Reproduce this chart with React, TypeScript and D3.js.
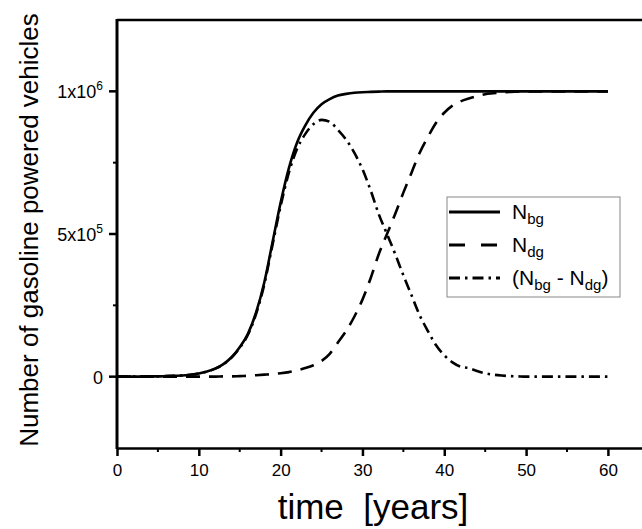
import { useEffect, useRef } from "react";
import * as d3 from "d3";

const WIDTH = 642;
const HEIGHT = 529;
const MARGIN = { top: 20, left: 117, bottom: 81 };
const FONT = "Liberation Sans, Arial, sans-serif";

// time in years
const years = d3.range(0, 61);

// values in units of 10^6 vehicles
const nBg = [
  0, 0, 0, 0.0005, 0.001, 0.001, 0.002, 0.003, 0.004, 0.007,
  0.011, 0.018, 0.028, 0.044, 0.068, 0.103, 0.15, 0.225, 0.33, 0.47,
  0.61, 0.73, 0.82, 0.88, 0.925, 0.955, 0.973, 0.985, 0.991, 0.995,
  0.997, 0.998, 0.999, 1, 1, 1, 1, 1, 1, 1,
  1, 1, 1, 1, 1, 1, 1, 1, 1, 1,
  1, 1, 1, 1, 1, 1, 1, 1, 1, 1, 1,
];

const nDg = [
  0, 0, 0, 0, 0, 0, 0, 0, 0, 0,
  0, 0, 0, 0.001, 0.001, 0.002, 0.003, 0.005, 0.007, 0.009,
  0.012, 0.016, 0.022, 0.03, 0.04, 0.055, 0.08, 0.12, 0.16, 0.21,
  0.27, 0.345, 0.43, 0.5, 0.57, 0.645, 0.715, 0.785, 0.84, 0.89,
  0.925, 0.95, 0.965, 0.975, 0.983, 0.99, 0.993, 0.996, 0.998, 0.999,
  1, 1, 1, 1, 1, 1, 1, 1, 1, 1, 1,
];

const nDiff = [
  0, 0, 0, 0.0005, 0.001, 0.001, 0.002, 0.003, 0.004, 0.007,
  0.011, 0.018, 0.028, 0.043, 0.067, 0.101, 0.147, 0.22, 0.323, 0.461,
  0.598, 0.714, 0.798, 0.85, 0.885, 0.9, 0.893, 0.865, 0.831, 0.785,
  0.727, 0.653, 0.569, 0.5, 0.43, 0.355, 0.285, 0.215, 0.16, 0.11,
  0.075, 0.05, 0.035, 0.03, 0.02, 0.012, 0.007, 0.004, 0.002, 0.001,
  0, 0, 0, 0, 0, 0, 0, 0, 0, 0, 0,
];

const xMajor = [0, 10, 20, 30, 40, 50, 60];
const xMinor = [5, 15, 25, 35, 45, 55, 65];
const yMajor = [
  { v: 0, base: "0", exp: "" },
  { v: 0.5, base: "5x10", exp: "5" },
  { v: 1, base: "1x10", exp: "6" },
];
const yMinor = [0.25, 0.75];

const SERIES = [
  { name: "bg", values: nBg, dash: null },
  { name: "dg", values: nDg, dash: "14 9" },
  { name: "diff", values: nDiff, dash: "11 5 2.5 5" },
];

export default function App() {
  const axesRef = useRef<SVGGElement>(null);

  const xScale = d3.scaleLinear().domain([0, 66]).range([MARGIN.left, MARGIN.left + 540]);
  const yScale = d3
    .scaleLinear()
    .domain([-0.25, 1.25])
    .range([HEIGHT - MARGIN.bottom, MARGIN.top]);

  const line = d3
    .line<number>()
    .x((_, i) => xScale(years[i]))
    .y((d) => yScale(d))
    .curve(d3.curveMonotoneX);

  useEffect(() => {
    const g = d3.select(axesRef.current);
    g.selectAll("*").remove();
    const y0 = yScale(-0.25);
    const x0 = xScale(0);

    const xAxis = g
      .append("g")
      .attr("transform", `translate(0,${y0})`)
      .call(d3.axisBottom(xScale).tickValues(xMajor).tickSize(8).tickSizeOuter(0).tickPadding(8));
    xAxis.select(".domain").attr("stroke-width", 2.5);
    xAxis.selectAll(".tick line").attr("stroke-width", 2.5);
    xAxis
      .selectAll(".tick text")
      .attr("font-family", FONT)
      .attr("font-size", 17)
      .attr("fill", "#000");
    xMinor.forEach((t) => {
      g.append("line")
        .attr("x1", xScale(t))
        .attr("x2", xScale(t))
        .attr("y1", y0)
        .attr("y2", y0 + 4)
        .attr("stroke", "#000")
        .attr("stroke-width", 2);
    });

    // top frame
    g.append("line")
      .attr("x1", x0)
      .attr("x2", xScale(66))
      .attr("y1", yScale(1.25))
      .attr("y2", yScale(1.25))
      .attr("stroke", "#000")
      .attr("stroke-width", 2.5);

    // left axis
    g.append("line")
      .attr("x1", x0)
      .attr("x2", x0)
      .attr("y1", yScale(1.25) - 1)
      .attr("y2", y0 + 1)
      .attr("stroke", "#000")
      .attr("stroke-width", 3);

    yMajor.forEach((t) => {
      const y = yScale(t.v);
      g.append("line")
        .attr("x1", x0 - 8)
        .attr("x2", x0)
        .attr("y1", y)
        .attr("y2", y)
        .attr("stroke", "#000")
        .attr("stroke-width", 2.5);
      const txt = g
        .append("text")
        .attr("x", x0 - 14)
        .attr("y", y + 7)
        .attr("text-anchor", "end")
        .attr("font-family", FONT)
        .attr("font-size", 18);
      txt.append("tspan").text(t.base);
      if (t.exp) {
        txt.append("tspan").attr("dy", -8).attr("font-size", 12).text(t.exp);
      }
    });
    yMinor.forEach((v) => {
      g.append("line")
        .attr("x1", x0 - 4)
        .attr("x2", x0)
        .attr("y1", yScale(v))
        .attr("y2", yScale(v))
        .attr("stroke", "#000")
        .attr("stroke-width", 2);
    });
  }, []);

  const legendX = 447;
  const legendY = 197;
  const rows = [
    { dash: null, label: [["N", ""], ["bg", "sub"]] },
    { dash: "16 16", label: [["N", ""], ["dg", "sub"]] },
    { dash: "11 5 2.5 5", label: [["(N", ""], ["bg", "sub"], [" - N", ""], ["dg", "sub"], [")", ""]] },
  ];

  return (
    <svg
      width={WIDTH}
      height={HEIGHT}
      style={{ position: "absolute", left: 0, top: 0, background: "#fff" }}
    >
      <rect width={WIDTH} height={HEIGHT} fill="#fff" />
      {SERIES.map((s) => (
        <path
          key={s.name}
          d={line(s.values) ?? ""}
          fill="none"
          stroke="#000"
          strokeWidth={2.6}
          strokeDasharray={s.dash ?? undefined}
        />
      ))}
      <g ref={axesRef} />

      <g>
        <rect
          x={legendX}
          y={legendY}
          width={173}
          height={100}
          fill="#fff"
          stroke="#888"
          strokeWidth={1}
        />
        {rows.map((r, i) => {
          const cy = legendY + 15 + i * 33;
          return (
            <g key={i}>
              <line
                x1={legendX + 2}
                x2={legendX + 53}
                y1={cy}
                y2={cy}
                stroke="#000"
                strokeWidth={3}
                strokeDasharray={r.dash ?? undefined}
              />
              <text x={legendX + 65} y={cy + 7} fontFamily={FONT} fontSize={21}>
                {r.label.map(([t, k], j) =>
                  k === "sub" ? (
                    <tspan key={j} fontSize={15} dy={5}>
                      {t}
                    </tspan>
                  ) : (
                    <tspan key={j} dy={j === 0 ? 0 : -5}>
                      {t}
                    </tspan>
                  )
                )}
              </text>
            </g>
          );
        })}
      </g>

      <text
        transform={`translate(${38},${230}) rotate(-90)`}
        textAnchor="middle"
        fontFamily={FONT}
        fontSize={26}
      >
        Number of gasoline powered vehicles
      </text>
      <text
        x={373}
        y={519}
        textAnchor="middle"
        fontFamily={FONT}
        fontSize={35}
        style={{ whiteSpace: "pre" }}
      >
        time  [years]
      </text>
    </svg>
  );
}
